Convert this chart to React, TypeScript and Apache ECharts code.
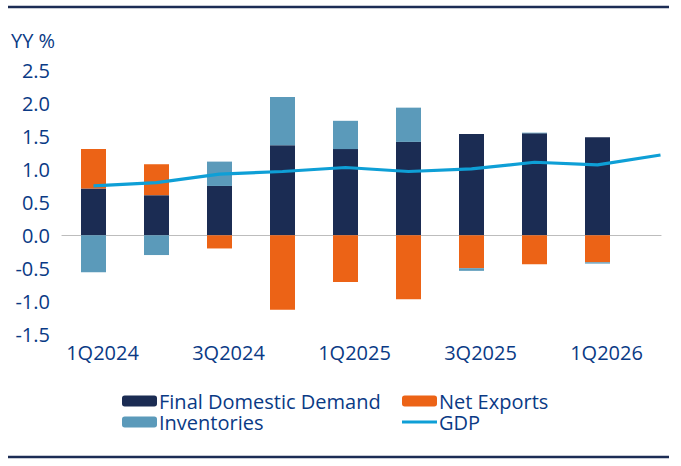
import React, { useEffect, useRef } from "react";
import * as echarts from "echarts";

const categories = ["1Q2024", "2Q2024", "3Q2024", "4Q2024", "1Q2025", "2Q2025", "3Q2025", "4Q2025", "1Q2026", "2Q2026"];
const finalDomesticDemand = [0.71, 0.61, 0.75, 1.37, 1.31, 1.42, 1.54, 1.55, 1.49, null];
const netExports = [0.6, 0.47, -0.2, -1.13, -0.71, -0.97, -0.5, -0.44, -0.41, null];
const inventories = [-0.56, -0.3, 0.37, 0.73, 0.43, 0.52, -0.04, 0.01, -0.02, null];
const gdp = [0.75, 0.8, 0.93, 0.97, 1.03, 0.97, 1.01, 1.11, 1.07, 1.22];
const yTicks = { min: -1.5, max: 2.5, interval: 0.5 };

const TEXT = "#0a3a85";
const FONT = "Open Sans";
const FS = 20;

export default function App() {
  const ref = useRef<HTMLDivElement>(null);
  useEffect(() => {
    document.body.style.margin = "0";
    const chart = echarts.init(ref.current!, null, { renderer: "svg" });
    const legendText = { color: TEXT, fontSize: FS, fontFamily: FONT, lineHeight: 20, padding: [0, 0, 0, -3] };
    chart.setOption({
      animation: false,
      graphic: [
        { type: "line", shape: { x1: 8, y1: 7, x2: 669, y2: 7 }, style: { stroke: "#1c2d55", lineWidth: 2.5 } },
        { type: "line", shape: { x1: 8, y1: 457, x2: 669, y2: 457 }, style: { stroke: "#1c2d55", lineWidth: 2.5 } },
        { type: "text", left: 11, top: 30, style: { text: "YY %", fill: TEXT, font: `${FS}px '${FONT}'` } },
      ],
      grid: [
        { left: 62, width: 630, top: 70.8, bottom: 132, outerBoundsMode: "none", containLabel: false },
        { left: 62, right: 20, top: 70.8, bottom: 132, outerBoundsMode: "none", containLabel: false },
      ],
      legend: [
        {
          data: ["Final Domestic Demand", "Inventories"],
          orient: "vertical",
          left: 117,
          top: 386,
          itemWidth: 35,
          itemHeight: 11,
          itemGap: 1,
          textStyle: legendText,
        },
        {
          data: ["Net Exports", { name: "GDP", icon: "path://M0,0h35v3h-35z" }],
          orient: "vertical",
          left: 397,
          top: 386,
          itemWidth: 35,
          itemHeight: 11,
          itemGap: 1,
          textStyle: legendText,
        },
      ],
      xAxis: [
        {
          type: "category",
          gridIndex: 0,
          data: categories,
          boundaryGap: true,
          axisLine: { show: false },
          axisTick: { show: false },
          splitLine: { show: false },
          axisLabel: {
            color: TEXT,
            fontSize: FS,
            fontFamily: FONT,
            margin: 8,
            interval: 1,
            padding: [0, 0, 0, 18],
          },
        },
        {
          type: "value",
          gridIndex: 1,
          min: 0,
          max: 1,
          axisLine: { show: true, onZero: true, lineStyle: { color: "#bdbdbd", width: 1.2 } },
          axisTick: { show: false },
          axisLabel: { show: false },
          splitLine: { show: false },
        },
      ],
      yAxis: [
        {
          type: "value",
          gridIndex: 0,
          min: yTicks.min,
          max: yTicks.max,
          interval: yTicks.interval,
          axisLine: { show: false },
          axisTick: { show: false },
          splitLine: { show: false },
          axisLabel: {
            color: TEXT,
            fontSize: FS,
            fontFamily: FONT,
            margin: 12,
            formatter: (v: number) => v.toFixed(1),
          },
        },
        {
          type: "value",
          gridIndex: 1,
          min: yTicks.min,
          max: yTicks.max,
          interval: yTicks.interval,
          axisLine: { show: false },
          axisTick: { show: false },
          axisLabel: { show: false },
          splitLine: { show: false },
        },
      ],
      series: [
        {
          name: "Final Domestic Demand",
          type: "bar",
          stack: "c",
          barWidth: 25,
          data: finalDomesticDemand,
          itemStyle: { color: "#1b2c53" },
        },
        {
          name: "Net Exports",
          type: "bar",
          stack: "c",
          barWidth: 25,
          data: netExports,
          itemStyle: { color: "#ec6316" },
        },
        {
          name: "Inventories",
          type: "bar",
          stack: "c",
          barWidth: 25,
          data: inventories,
          itemStyle: { color: "#5b9aba" },
        },
        {
          name: "GDP",
          type: "line",
          data: gdp,
          symbol: "none",
          showSymbol: false,
          lineStyle: { color: "#0e9fd6", width: 3.2 },
          itemStyle: { color: "#0e9fd6" },
          z: 5,
        },
      ],
    });
    return () => chart.dispose();
  }, []);
  return <div ref={ref} style={{ width: 681, height: 466 }} />;
}
